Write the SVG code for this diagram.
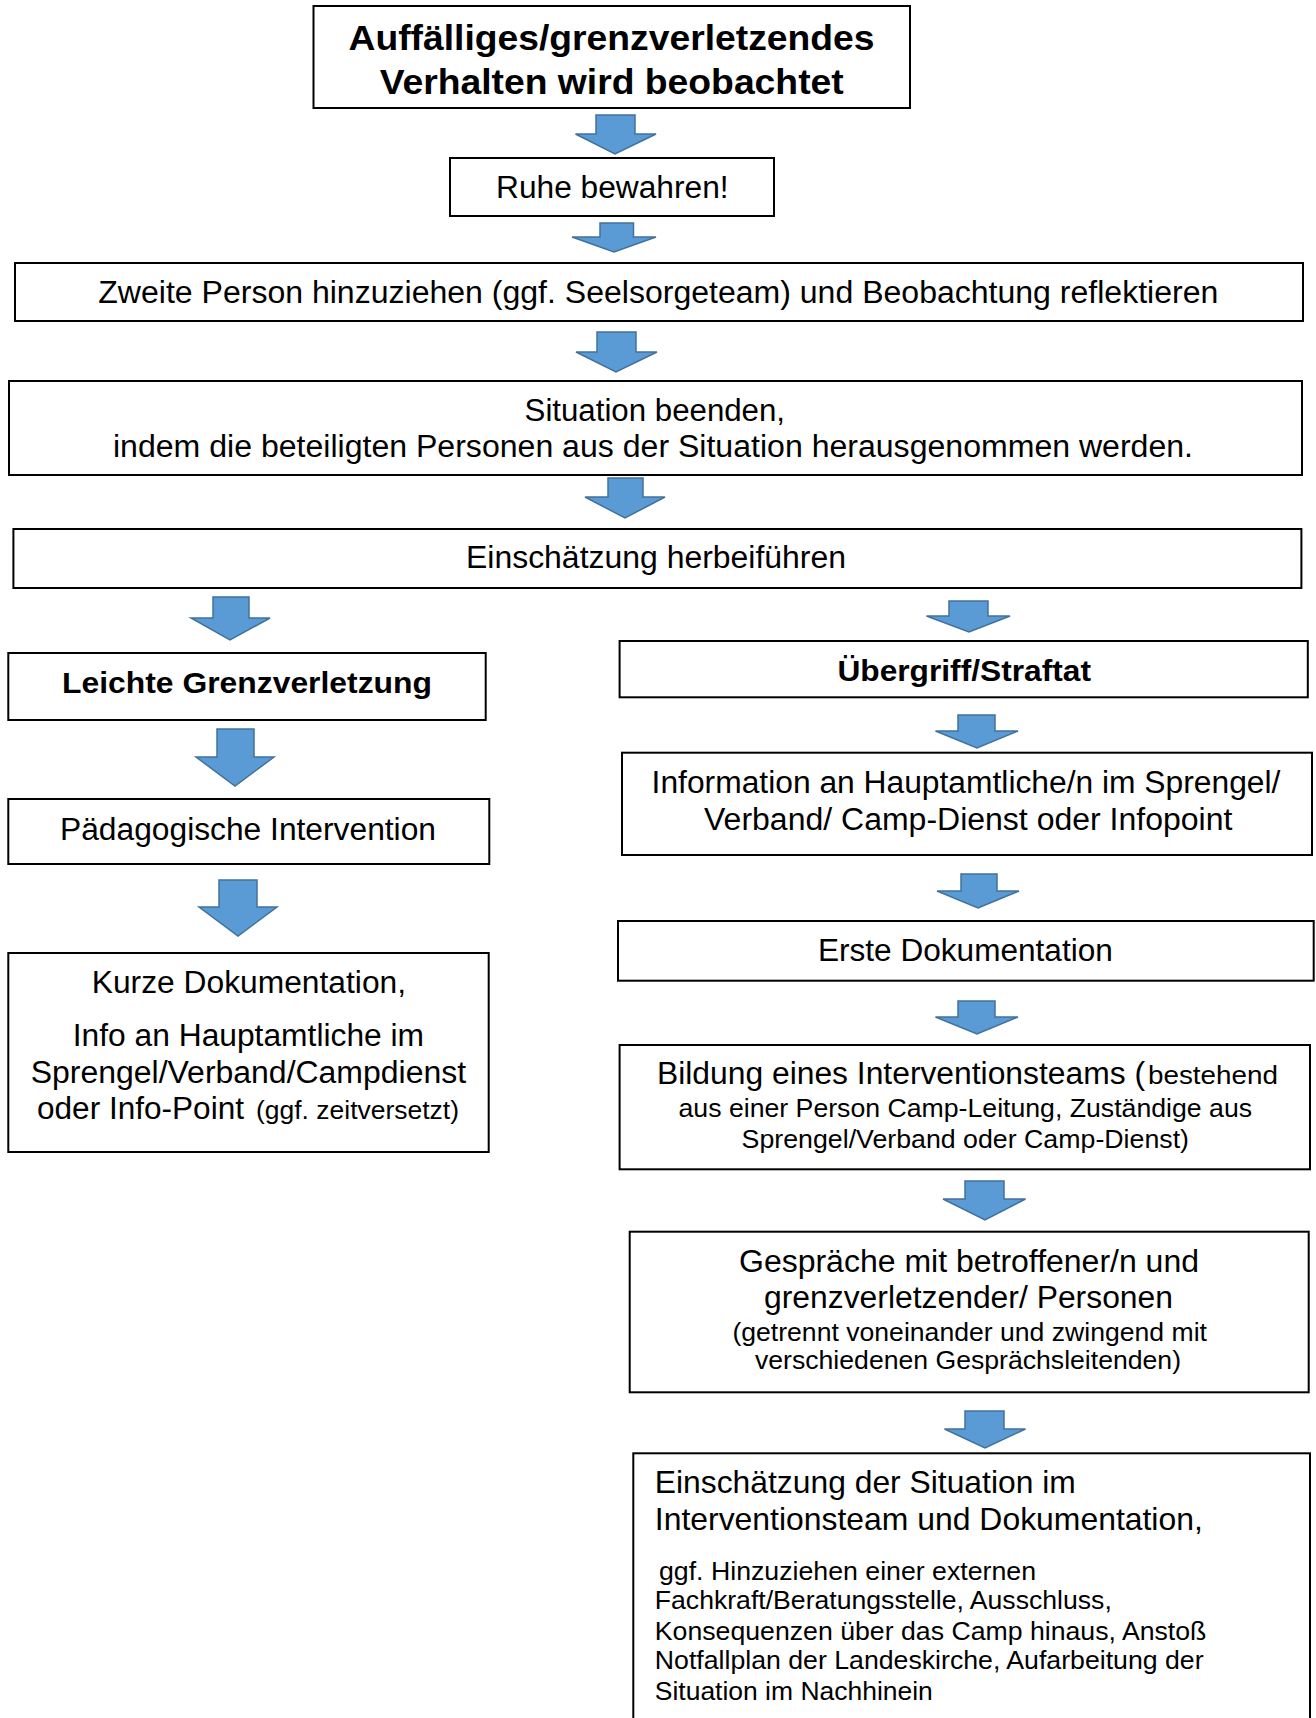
<svg xmlns="http://www.w3.org/2000/svg" width="1316" height="1718" viewBox="0 0 1316 1718">
<style>
.box{fill:#fff;stroke:#000;stroke-width:2}
.arr{fill:#5B9BD5;stroke:#41719C;stroke-width:1.5;stroke-linejoin:miter}
text{font-family:"Liberation Sans",Arial,sans-serif;fill:#000}
.t{font-size:31px}
.s{font-size:25px}
.b{font-size:30px;font-weight:bold}
.h{font-size:35px;font-weight:bold}
.c{text-anchor:middle}
</style>
<rect width="1316" height="1718" fill="#fff"/>
<g id="connectors">
<path class="arr" d="M596,115 H635 V134 H656 L615,154 L575.5,134 H596 Z"/>
<path class="arr" d="M600,223 H633.5 V237 H656 L614,252 L572,237 H600 Z"/>
<path class="arr" d="M597,332 H636 V352 H657 L616,372 L576,352 H597 Z"/>
<path class="arr" d="M608,478 H643 V497 H665 L625,518 L585,497 H608 Z"/>
<path class="arr" d="M213,597 H249 V618 H270 L230,640 L191,618 H213 Z"/>
<path class="arr" d="M217,729 H254 V757 H274 L235,786 L196,757 H217 Z"/>
<path class="arr" d="M219,880 H257 V907 H277 L238,936 L199,907 H219 Z"/>
<path class="arr" d="M949,601 H988 V616 H1010 L969,632 L926.5,616 H949 Z"/>
<path class="arr" d="M958,715 H995 V731 H1018 L977,748 L935.5,731 H958 Z"/>
<path class="arr" d="M961,874 H997 V891 H1019 L978,908 L937,891 H961 Z"/>
<path class="arr" d="M958,1001 H995 V1017 H1018 L977,1034 L935.5,1017 H958 Z"/>
<path class="arr" d="M965,1181 H1004 V1199 H1025.5 L985,1220 L943,1199 H965 Z"/>
<path class="arr" d="M965,1411 H1004 V1429 H1025.5 L985,1448 L944.5,1429 H965 Z"/>
</g>
<g id="n1">
<rect class="box" x="313.5" y="6" width="596.5" height="102"/>
<text class="h c" x="611.5" y="50" textLength="526" lengthAdjust="spacingAndGlyphs">Auffälliges/grenzverletzendes</text>
<text class="h c" x="611.7" y="94" textLength="464" lengthAdjust="spacingAndGlyphs">Verhalten wird beobachtet</text>
</g>
<g id="n2">
<rect class="box" x="450" y="158" width="324" height="58"/>
<text class="t c" x="612.3" y="198" textLength="232.6" lengthAdjust="spacingAndGlyphs">Ruhe bewahren!</text>
</g>
<g id="n3">
<rect class="box" x="15" y="263" width="1288" height="58"/>
<text class="t c" x="658.3" y="303" textLength="1120" lengthAdjust="spacingAndGlyphs">Zweite Person hinzuziehen (ggf. Seelsorgeteam) und Beobachtung reflektieren</text>
</g>
<g id="n4">
<rect class="box" x="9" y="381" width="1293" height="94"/>
<text class="t c" x="654.8" y="421" textLength="260.5" lengthAdjust="spacingAndGlyphs">Situation beenden,</text>
<text class="t c" x="653" y="457" textLength="1080" lengthAdjust="spacingAndGlyphs">indem die beteiligten Personen aus der Situation herausgenommen werden.</text>
</g>
<g id="n5">
<rect class="box" x="13.4" y="529" width="1288" height="59"/>
<text class="t c" x="656" y="568" textLength="380" lengthAdjust="spacingAndGlyphs">Einschätzung herbeiführen</text>
</g>
<g id="n6">
<rect class="box" x="8.3" y="653" width="477.4" height="67"/>
<text class="b c" x="247" y="693" textLength="370" lengthAdjust="spacingAndGlyphs">Leichte Grenzverletzung</text>
</g>
<g id="n7">
<rect class="box" x="8.3" y="799" width="481" height="65"/>
<text class="t c" x="248" y="840" textLength="376" lengthAdjust="spacingAndGlyphs">Pädagogische Intervention</text>
</g>
<g id="n8">
<rect class="box" x="8.3" y="953" width="480.4" height="199"/>
<text class="t c" x="248.9" y="993" textLength="314.3" lengthAdjust="spacingAndGlyphs">Kurze Dokumentation,</text>
<text class="t c" x="248.4" y="1046" textLength="351.3" lengthAdjust="spacingAndGlyphs">Info an Hauptamtliche im</text>
<text class="t c" x="248.4" y="1082.6" textLength="435.3" lengthAdjust="spacingAndGlyphs">Sprengel/Verband/Campdienst</text>
<text class="t" x="37" y="1119" textLength="207" lengthAdjust="spacingAndGlyphs">oder Info-Point</text>
<text class="s" x="256" y="1119" textLength="203" lengthAdjust="spacingAndGlyphs">(ggf. zeitversetzt)</text>
</g>
<g id="n9">
<rect class="box" x="619.6" y="641" width="688.2" height="56.3"/>
<text class="b c" x="964.2" y="681" textLength="253.6" lengthAdjust="spacingAndGlyphs">Übergriff/Straftat</text>
</g>
<g id="n10">
<rect class="box" x="622" y="752.7" width="690" height="102.3"/>
<text class="t c" x="966" y="793" textLength="628.8" lengthAdjust="spacingAndGlyphs">Information an Hauptamtliche/n im Sprengel/</text>
<text class="t c" x="968.2" y="830" textLength="528.4" lengthAdjust="spacingAndGlyphs">Verband/ Camp-Dienst oder Infopoint</text>
</g>
<g id="n11">
<rect class="box" x="618" y="921" width="695.7" height="59.7"/>
<text class="t c" x="965.4" y="961" textLength="294.8" lengthAdjust="spacingAndGlyphs">Erste Dokumentation</text>
</g>
<g id="n12">
<rect class="box" x="619.6" y="1045" width="690.4" height="124.3"/>
<text class="t" x="657" y="1084.3" textLength="488" lengthAdjust="spacingAndGlyphs">Bildung eines Interventionsteams (</text>
<text class="s" x="1148" y="1084.3" textLength="130" lengthAdjust="spacingAndGlyphs">bestehend</text>
<text class="s c" x="965.3" y="1116.7" textLength="573.5" lengthAdjust="spacingAndGlyphs">aus einer Person Camp-Leitung, Zuständige aus</text>
<text class="s c" x="965.3" y="1147.7" textLength="447.4" lengthAdjust="spacingAndGlyphs">Sprengel/Verband oder Camp-Dienst)</text>
</g>
<g id="n13">
<rect class="box" x="629.7" y="1231.7" width="679" height="160.6"/>
<text class="t c" x="969" y="1271.7" textLength="460" lengthAdjust="spacingAndGlyphs">Gespräche mit betroffener/n und</text>
<text class="t c" x="968.5" y="1308.3" textLength="409" lengthAdjust="spacingAndGlyphs">grenzverletzender/ Personen</text>
<text class="s c" x="969.7" y="1340.7" textLength="474.6" lengthAdjust="spacingAndGlyphs">(getrennt voneinander und zwingend mit</text>
<text class="s c" x="968" y="1369.3" textLength="426" lengthAdjust="spacingAndGlyphs">verschiedenen Gesprächsleitenden)</text>
</g>
<g id="n14">
<rect class="box" x="633.3" y="1453.3" width="676.7" height="300"/>
<text class="t" x="654.8" y="1493.3" style="font-size:32px" textLength="421" lengthAdjust="spacingAndGlyphs">Einschätzung der Situation im</text>
<text class="t" x="654.8" y="1530" style="font-size:32px" textLength="548" lengthAdjust="spacingAndGlyphs">Interventionsteam und Dokumentation,</text>
<text class="s" x="659" y="1580" textLength="377" lengthAdjust="spacingAndGlyphs">ggf. Hinzuziehen einer externen</text>
<text class="s" x="654.8" y="1609.3" textLength="457" lengthAdjust="spacingAndGlyphs">Fachkraft/Beratungsstelle, Ausschluss,</text>
<text class="s" x="654.8" y="1640" textLength="551.6" lengthAdjust="spacingAndGlyphs">Konsequenzen über das Camp hinaus, Anstoß</text>
<text class="s" x="654.8" y="1669.3" textLength="548.8" lengthAdjust="spacingAndGlyphs">Notfallplan der Landeskirche, Aufarbeitung der</text>
<text class="s" x="654.8" y="1700" textLength="278" lengthAdjust="spacingAndGlyphs">Situation im Nachhinein</text>
</g>
</svg>
